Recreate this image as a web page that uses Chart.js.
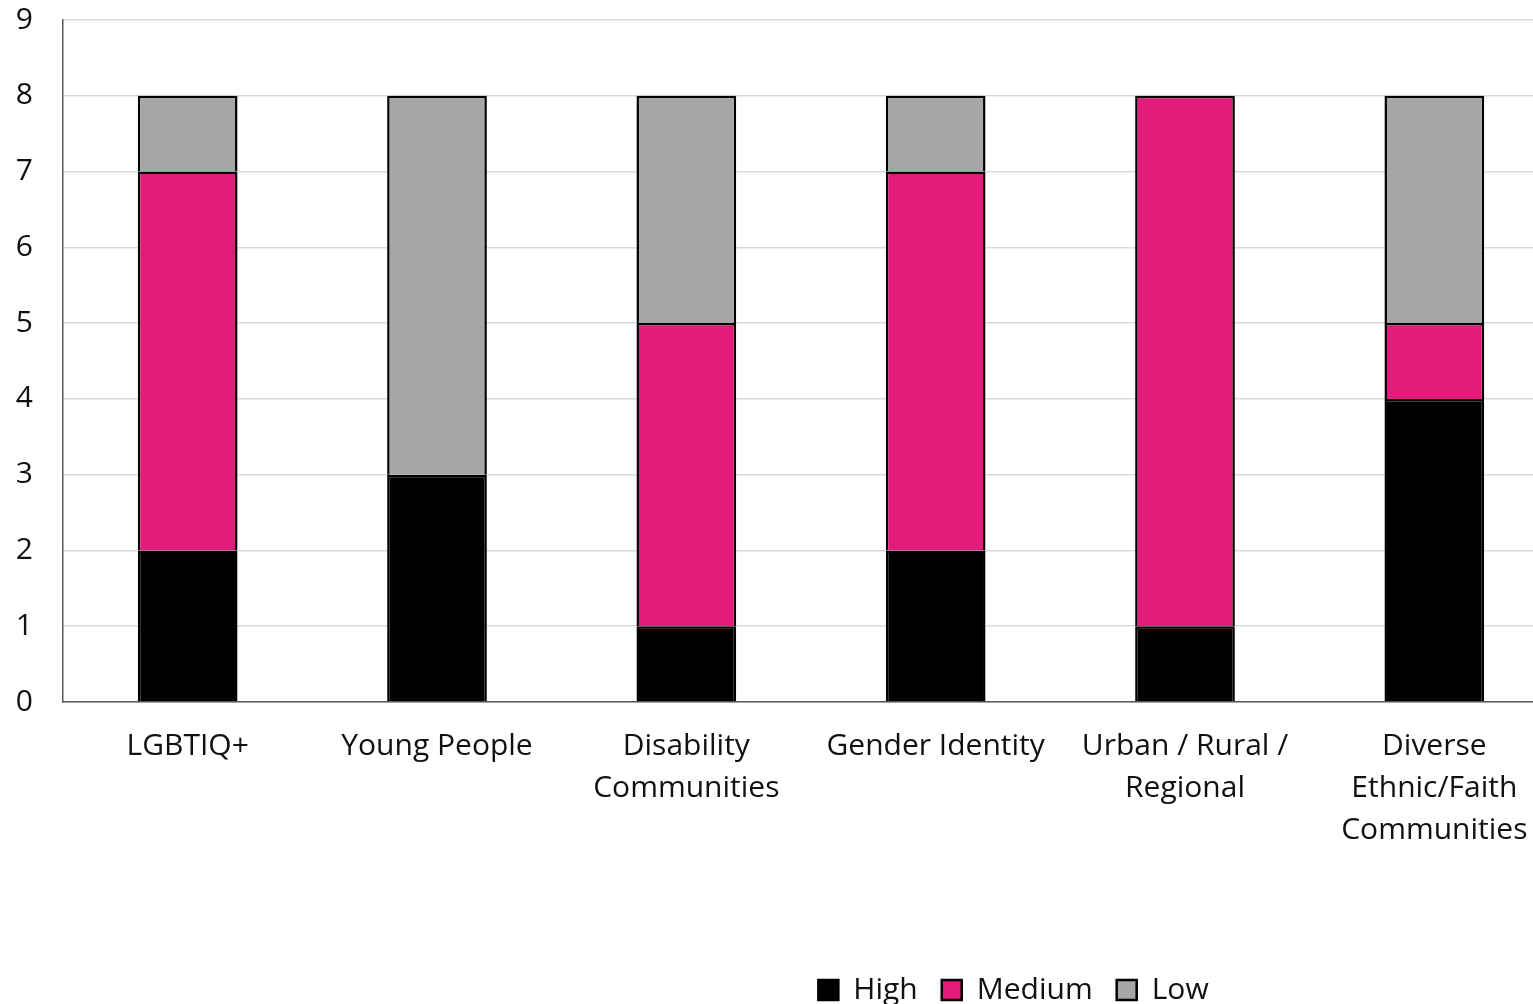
<!DOCTYPE html>
<html>
<head>
<meta charset="utf-8">
<script src="https://cdn.jsdelivr.net/npm/chart.js@4"></script>
<style>
  html, body { margin: 0; padding: 0; background: #fff; overflow: hidden; }
  #wrap { width: 1560px; height: 1004px; }
</style>
</head>
<body>
<div id="wrap"><canvas id="impact-chart" width="1560" height="1004"></canvas></div>
<script>
const categories = [
    'LGBTIQ+',
    'Young People',
    ['Disability', 'Communities'],
    'Gender Identity',
    ['Urban / Rural /', 'Regional'],
    ['Diverse', 'Ethnic/Faith', 'Communities']
];
const highValues = [2, 3, 1, 2, 1, 4];
const mediumValues = [5, 0, 4, 5, 7, 1];
const lowValues = [1, 5, 3, 1, 0, 3];
const yTicks = [0, 1, 2, 3, 4, 5, 6, 7, 8, 9];

const FONT = '"Open Sans", Lato, sans-serif';
const LEGEND_SHIFT = 234;

// nudge the bottom legend to the right of the canvas centre
const legendShift = {
    id: 'legendShift',
    afterLayout(chart) {
        if (!chart.legend) return;
        chart.legend.left += LEGEND_SHIFT;
        chart.legend.right += LEGEND_SHIFT;
    }
};

const ctx = document.getElementById('impact-chart');

new Chart(ctx, {
    type: 'bar',
    data: {
        labels: categories,
        datasets: [
            { label: 'High', data: highValues, backgroundColor: '#000000' },
            { label: 'Medium', data: mediumValues, backgroundColor: '#E31B7A' },
            { label: 'Low', data: lowValues, backgroundColor: '#A6A6A6' }
        ].map(ds => Object.assign(ds, {
            borderColor: '#000000',
            borderWidth: 2.5,
            borderSkipped: 'start',
            barPercentage: 0.4,
            categoryPercentage: 1
        }))
    },
    plugins: [legendShift],
    options: {
        responsive: false,
        animation: false,
        layout: { padding: { top: 20, right: 1, left: 0, bottom: -11 } },
        plugins: {
            tooltip: { enabled: false },
            legend: {
                position: 'bottom',
                labels: {
                    boxWidth: 20,
                    boxHeight: 20,
                    padding: 24,
                    color: '#111',
                    font: { family: FONT, size: 30, lineHeight: 1 }
                }
            }
        },
        scales: {
            x: {
                stacked: true,
                grid: { display: false, drawTicks: false },
                border: { color: '#595959', width: 1.5 },
                ticks: {
                    color: '#111',
                    padding: 23,
                    maxRotation: 0,
                    autoSkip: false,
                    font: { family: FONT, size: 30, lineHeight: 1.4 }
                },
                afterFit: scale => { scale.height = 249; }
            },
            y: {
                stacked: true,
                min: 0,
                max: 9,
                afterBuildTicks: scale => { scale.ticks = yTicks.map(v => ({ value: v })); },
                grid: { color: '#D9D9D9', lineWidth: 1.5, drawTicks: false },
                border: { color: '#595959', width: 1.5 },
                ticks: {
                    color: '#111',
                    padding: 30,
                    font: { family: FONT, size: 30 }
                },
                afterFit: scale => {
                    scale.width = 63;
                    scale.paddingTop = 0;
                    scale.paddingBottom = 0;
                }
            }
        }
    }
});
</script>
</body>
</html>
